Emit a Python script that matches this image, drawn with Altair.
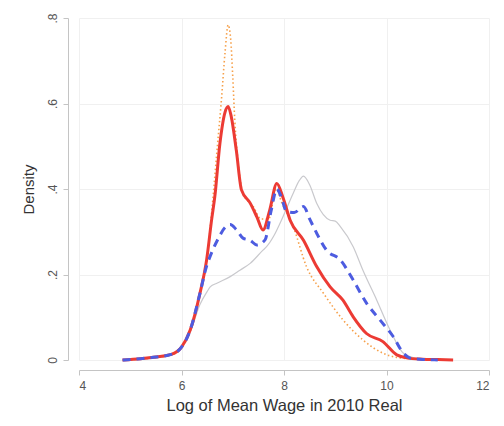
import altair as alt
import pandas as pd

# Solid red series
red_x = [4.85, 5.2, 5.5, 5.8, 6.0, 6.17, 6.36, 6.49, 6.59, 6.65, 6.75, 6.85, 6.91, 6.97, 7.07, 7.17, 7.34, 7.47, 7.59, 7.72, 7.86, 7.98, 8.12, 8.38, 8.64, 8.9, 9.15, 9.35, 9.61, 9.93, 10.2, 10.39, 10.7, 11.0, 11.3]
red_y = [0.0, 0.003, 0.007, 0.013, 0.03, 0.07, 0.156, 0.234, 0.33, 0.382, 0.507, 0.58, 0.593, 0.57, 0.49, 0.398, 0.367, 0.335, 0.304, 0.35, 0.413, 0.38, 0.327, 0.28, 0.218, 0.171, 0.14, 0.101, 0.062, 0.043, 0.012, 0.005, 0.002, 0.001, 0.0]

# Dashed blue series
blue_x = [4.85, 5.2, 5.5, 5.8, 6.0, 6.17, 6.36, 6.49, 6.56, 6.7, 6.85, 6.95, 7.07, 7.2, 7.34, 7.47, 7.63, 7.75, 7.86, 7.95, 8.05, 8.2, 8.38, 8.5, 8.64, 8.83, 9.1, 9.35, 9.61, 9.87, 10.13, 10.33, 10.5, 10.8, 11.0]
blue_y = [0.0, 0.003, 0.007, 0.013, 0.03, 0.07, 0.156, 0.22, 0.243, 0.28, 0.31, 0.317, 0.305, 0.285, 0.28, 0.269, 0.281, 0.35, 0.40, 0.38, 0.347, 0.345, 0.359, 0.33, 0.296, 0.257, 0.234, 0.187, 0.133, 0.094, 0.055, 0.016, 0.003, 0.001, 0.0]

# Dotted orange series
orange_x = [4.85, 5.5, 5.8, 6.0, 6.17, 6.36, 6.5, 6.6, 6.7, 6.78, 6.85, 6.91, 6.96, 7.0, 7.04, 7.1, 7.2, 7.4, 7.55, 7.7, 7.85, 7.95, 8.18, 8.44, 8.77, 9.15, 9.54, 9.93, 10.2, 10.6, 11.0, 11.3]
orange_y = [0.0, 0.006, 0.012, 0.028, 0.068, 0.155, 0.24, 0.36, 0.5, 0.61, 0.72, 0.784, 0.75, 0.663, 0.56, 0.468, 0.39, 0.359, 0.33, 0.33, 0.40, 0.37, 0.312, 0.218, 0.156, 0.094, 0.047, 0.016, 0.006, 0.002, 0.001, 0.0]

# Thin gray series
gray_x = [5.0, 5.5, 5.8, 6.0, 6.17, 6.36, 6.5, 6.56, 6.7, 6.95, 7.14, 7.34, 7.59, 7.66, 7.8, 7.98, 8.18, 8.3, 8.38, 8.5, 8.64, 8.9, 9.0, 9.1, 9.35, 9.54, 9.81, 10.07, 10.33, 10.6, 11.0]
gray_y = [0.0, 0.005, 0.012, 0.028, 0.065, 0.13, 0.16, 0.171, 0.18, 0.195, 0.21, 0.226, 0.257, 0.265, 0.29, 0.335, 0.39, 0.42, 0.43, 0.41, 0.366, 0.327, 0.325, 0.312, 0.265, 0.21, 0.14, 0.07, 0.016, 0.004, 0.0]

x_ticks = [4, 6, 8, 10, 12]
y_ticks = [0, 0.2, 0.4, 0.6, 0.8]
x_title = "Log of Mean Wage in 2010 Real"
y_title = "Density"

FONT = "Liberation Sans"

x_enc = alt.X("x:Q", scale=alt.Scale(domain=[4, 12], nice=False, zero=False),
              axis=alt.Axis(values=x_ticks, title=x_title, offset=10, format="d",
                            labelPadding=5, titlePadding=6, titleFontSize=16.5))
y_enc = alt.Y("y:Q", scale=alt.Scale(domain=[0, 0.8], nice=False),
              axis=alt.Axis(values=y_ticks, title=y_title, offset=11,
                            labelExpr="datum.value == 0 ? '0' : '.' + format(datum.value * 10, '.0f')",
                            labelAngle=270, labelAlign="center", labelBaseline="bottom",
                            labelPadding=4, titlePadding=10))


def layer(xs, ys, color, width, dash=None):
    df = pd.DataFrame({"x": xs, "y": ys})
    kw = dict(color=color, strokeWidth=width, interpolate="monotone")
    if dash is not None:
        kw["strokeDash"] = dash
    return alt.Chart(df).mark_line(**kw).encode(x=x_enc, y=y_enc)


chart = alt.layer(
    layer(gray_x, gray_y, "#c9c9cd", 1.2),
    layer(orange_x, orange_y, "#f6a04a", 1.6, [1.5, 2.5]),
    layer(red_x, red_y, "#ec3b34", 3),
    layer(blue_x, blue_y, "#4d5ce0", 3, [8, 6]),
).properties(
    width=410, height=342,
    autosize=alt.AutoSizeParams(type="none"),
    padding={"left": 71, "top": 10, "right": 5, "bottom": 60},
).configure_view(stroke=None).configure_axis(
    labelFont=FONT, titleFont=FONT, labelFontSize=12, titleFontSize=15,
    labelColor="#555555", titleColor="#333333", titleFontWeight="normal",
    domainColor="#c4c4c4", tickColor="#c4c4c4", tickSize=5,
    gridColor="#f0f0f0", gridWidth=1,
)

chart.save("out.html", embed_options={"renderer": "svg", "actions": False})
